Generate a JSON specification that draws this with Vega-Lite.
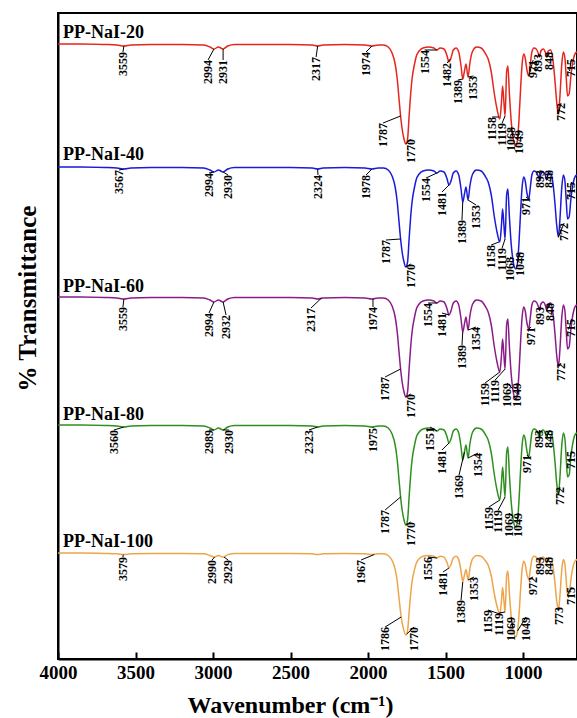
{
  "$schema": "https://vega.github.io/schema/vega-lite/v6.json",
  "width": 519,
  "height": 646,
  "autosize": {"type": "none"},
  "padding": {"left": 58, "top": 13, "right": 0, "bottom": 59},
  "background": "white",
  "config": {"view": {"stroke": "black", "strokeWidth": 2}, "font": "Liberation Serif"},
  "datasets": {
    "spec": [
      {"w":4000,"a":615,"b":492,"c":362,"d":234,"e":106},
      {"w":3850,"a":615,"b":492,"c":362,"d":234,"e":106},
      {"w":3700,"a":614.5,"b":491.5,"c":361.5,"d":233.5,"e":105.6},
      {"w":3620,"a":614,"b":491,"c":361,"d":233,"e":105.2},
      {"w":3575,"a":613,"b":490,"c":360,"d":232,"e":104.4},
      {"w":3530,"a":614,"b":491,"c":361,"d":233,"e":105.2},
      {"w":3400,"a":614.5,"b":491.5,"c":361.5,"d":233.5,"e":105.6},
      {"w":3200,"a":614.5,"b":491.5,"c":361.5,"d":233.5,"e":105.6},
      {"w":3060,"a":614,"b":491,"c":361,"d":233,"e":105.2},
      {"w":3020,"a":612,"b":489,"c":359,"d":231,"e":103.5},
      {"w":2994,"a":610,"b":487,"c":357,"d":229,"e":101.9},
      {"w":2965,"a":612,"b":489,"c":359,"d":231,"e":103.5},
      {"w":2935,"a":610,"b":487,"c":357,"d":229,"e":101.9},
      {"w":2905,"a":613,"b":490,"c":360,"d":232,"e":104.4},
      {"w":2860,"a":614.5,"b":491.5,"c":361.5,"d":233.5,"e":105.6},
      {"w":2700,"a":614.5,"b":491.5,"c":361.5,"d":233.5,"e":105.6},
      {"w":2500,"a":614.5,"b":491.5,"c":361.5,"d":233.5,"e":105.6},
      {"w":2360,"a":614,"b":491,"c":361,"d":233,"e":105.2},
      {"w":2325,"a":613,"b":490,"c":360,"d":232,"e":104.4},
      {"w":2290,"a":614,"b":491,"c":361,"d":233,"e":105.2},
      {"w":2150,"a":614.5,"b":491.5,"c":361.5,"d":233.5,"e":105.6},
      {"w":2020,"a":614,"b":491,"c":361,"d":233,"e":105.2},
      {"w":1975,"a":613,"b":490,"c":360,"d":232,"e":104.4},
      {"w":1935,"a":614,"b":491,"c":361,"d":233,"e":105.2},
      {"w":1900,"a":614,"b":491,"c":361,"d":233,"e":105.2},
      {"w":1870,"a":612,"b":489,"c":359,"d":231,"e":103.5},
      {"w":1845,"a":606,"b":483,"c":353,"d":225,"e":98.6},
      {"w":1825,"a":595,"b":472,"c":342,"d":214,"e":89.6},
      {"w":1813,"a":582,"b":459,"c":329,"d":201,"e":79},
      {"w":1800,"a":560,"b":437,"c":307,"d":179,"e":60.9},
      {"w":1790,"a":543,"b":420,"c":290,"d":162,"e":47},
      {"w":1780,"a":530,"b":407,"c":277,"d":149,"e":36.3},
      {"w":1768,"a":520,"b":397,"c":267,"d":139,"e":28.1},
      {"w":1756,"a":515,"b":392,"c":262,"d":134,"e":24},
      {"w":1745,"a":520,"b":397,"c":267,"d":139,"e":28.1},
      {"w":1735,"a":543,"b":420,"c":290,"d":162,"e":47},
      {"w":1725,"a":565,"b":442,"c":312,"d":184,"e":65},
      {"w":1716,"a":580,"b":457,"c":327,"d":199,"e":77.3},
      {"w":1700,"a":595,"b":472,"c":342,"d":214,"e":89.6},
      {"w":1690,"a":602,"b":479,"c":349,"d":221,"e":95.3},
      {"w":1670,"a":608,"b":485,"c":355,"d":227,"e":100.3},
      {"w":1645,"a":611,"b":488,"c":358,"d":230,"e":102.7},
      {"w":1610,"a":612,"b":489,"c":359,"d":231,"e":103.5},
      {"w":1575,"a":611,"b":488,"c":358,"d":230,"e":102.7},
      {"w":1556,"a":609,"b":486,"c":356,"d":228,"e":101.1},
      {"w":1535,"a":611,"b":488,"c":358,"d":230,"e":102.7},
      {"w":1510,"a":610,"b":487,"c":357,"d":229,"e":101.9},
      {"w":1490,"a":603,"b":480,"c":350,"d":222,"e":96.2},
      {"w":1478,"a":597,"b":474,"c":344,"d":216,"e":91.2},
      {"w":1465,"a":601,"b":478,"c":348,"d":220,"e":94.5},
      {"w":1450,"a":609,"b":486,"c":356,"d":228,"e":101.1},
      {"w":1432,"a":611,"b":488,"c":358,"d":230,"e":102.7},
      {"w":1415,"a":607,"b":484,"c":354,"d":226,"e":99.4},
      {"w":1400,"a":593,"b":470,"c":340,"d":212,"e":88},
      {"w":1389,"a":580,"b":457,"c":327,"d":199,"e":77.3},
      {"w":1378,"a":588,"b":465,"c":335,"d":207,"e":83.9},
      {"w":1368,"a":595,"b":472,"c":342,"d":214,"e":89.6},
      {"w":1355,"a":582,"b":459,"c":329,"d":201,"e":79},
      {"w":1342,"a":597,"b":474,"c":344,"d":216,"e":91.2},
      {"w":1325,"a":608,"b":485,"c":355,"d":227,"e":100.3},
      {"w":1300,"a":612,"b":489,"c":359,"d":231,"e":103.5},
      {"w":1270,"a":611,"b":488,"c":358,"d":230,"e":102.7},
      {"w":1245,"a":606,"b":483,"c":353,"d":225,"e":98.6},
      {"w":1225,"a":600,"b":477,"c":347,"d":219,"e":93.7},
      {"w":1205,"a":587,"b":464,"c":334,"d":206,"e":83},
      {"w":1185,"a":565,"b":442,"c":312,"d":184,"e":65},
      {"w":1168,"a":550,"b":427,"c":297,"d":169,"e":52.7},
      {"w":1150,"a":540,"b":417,"c":287,"d":159,"e":44.5},
      {"w":1140,"a":555,"b":432,"c":302,"d":174,"e":56.8},
      {"w":1132,"a":573,"b":450,"c":320,"d":192,"e":71.6},
      {"w":1124,"a":558,"b":435,"c":305,"d":177,"e":59.3},
      {"w":1116,"a":543,"b":420,"c":290,"d":162,"e":47},
      {"w":1106,"a":587,"b":464,"c":334,"d":206,"e":83},
      {"w":1098,"a":593,"b":470,"c":340,"d":212,"e":88},
      {"w":1088,"a":565,"b":442,"c":312,"d":184,"e":65},
      {"w":1076,"a":537,"b":414,"c":284,"d":156,"e":42},
      {"w":1066,"a":523,"b":400,"c":270,"d":142,"e":30.6},
      {"w":1056,"a":515,"b":392,"c":262,"d":134,"e":24},
      {"w":1046,"a":513,"b":390,"c":260,"d":132,"e":22.4},
      {"w":1036,"a":519,"b":396,"c":266,"d":138,"e":27.3},
      {"w":1026,"a":540,"b":417,"c":287,"d":159,"e":44.5},
      {"w":1016,"a":570,"b":447,"c":317,"d":189,"e":69.1},
      {"w":1006,"a":595,"b":472,"c":342,"d":214,"e":89.6},
      {"w":996,"a":605,"b":482,"c":352,"d":224,"e":97.8},
      {"w":986,"a":601,"b":478,"c":348,"d":220,"e":94.5},
      {"w":975,"a":589,"b":466,"c":336,"d":208,"e":84.7},
      {"w":963,"a":583,"b":460,"c":330,"d":202,"e":79.8},
      {"w":953,"a":595,"b":472,"c":342,"d":214,"e":89.6},
      {"w":943,"a":607,"b":484,"c":354,"d":226,"e":99.4},
      {"w":930,"a":611,"b":488,"c":358,"d":230,"e":102.7},
      {"w":915,"a":610,"b":487,"c":357,"d":229,"e":101.9},
      {"w":900,"a":605,"b":482,"c":352,"d":224,"e":97.8},
      {"w":893,"a":602,"b":479,"c":349,"d":221,"e":95.3},
      {"w":885,"a":608,"b":485,"c":355,"d":227,"e":100.3},
      {"w":870,"a":610,"b":487,"c":357,"d":229,"e":101.9},
      {"w":855,"a":606,"b":483,"c":353,"d":225,"e":98.6},
      {"w":848,"a":602,"b":479,"c":349,"d":221,"e":95.3},
      {"w":838,"a":608,"b":485,"c":355,"d":227,"e":100.3},
      {"w":822,"a":609,"b":486,"c":356,"d":228,"e":101.1},
      {"w":808,"a":600,"b":477,"c":347,"d":219,"e":93.7},
      {"w":795,"a":580,"b":457,"c":327,"d":199,"e":77.3},
      {"w":783,"a":557,"b":434,"c":304,"d":176,"e":58.4},
      {"w":772,"a":545,"b":422,"c":292,"d":164,"e":48.6},
      {"w":762,"a":563,"b":440,"c":310,"d":182,"e":63.4},
      {"w":750,"a":595,"b":472,"c":342,"d":214,"e":89.6},
      {"w":740,"a":607,"b":484,"c":354,"d":226,"e":99.4},
      {"w":730,"a":601,"b":478,"c":348,"d":220,"e":94.5},
      {"w":722,"a":583,"b":460,"c":330,"d":202,"e":79.8},
      {"w":713,"a":563,"b":440,"c":310,"d":182,"e":63.4},
      {"w":703,"a":565,"b":442,"c":312,"d":184,"e":65},
      {"w":690,"a":585,"b":462,"c":332,"d":204,"e":81.4},
      {"w":675,"a":600,"b":477,"c":347,"d":219,"e":93.7},
      {"w":662,"a":606,"b":483,"c":353,"d":225,"e":98.6},
      {"w":652,"a":607,"b":484,"c":354,"d":226,"e":99.4}
    ],
    "peaks": [
      {"s":"a","t":"3559","x":3581,"y":607,"px":3575,"py":613},
      {"s":"a","t":"2994","x":3032,"y":599,"px":2994,"py":610},
      {"s":"a","t":"2931","x":2935,"y":599,"px":2935,"py":610},
      {"s":"a","t":"2317","x":2335,"y":602,"px":2325,"py":613},
      {"s":"a","t":"1974","x":2013,"y":607,"px":1975,"py":613},
      {"s":"a","t":"1554","x":1635,"y":609,"px":1556,"py":609},
      {"s":"a","t":"1482","x":1490,"y":596,"px":1470,"py":600},
      {"s":"a","t":"1389","x":1420,"y":579,"px":1389,"py":580},
      {"s":"a","t":"1353","x":1320,"y":583,"px":1355,"py":582},
      {"s":"a","t":"1787","x":1903,"y":536,"px":1790,"py":543},
      {"s":"a","t":"1770","x":1725,"y":520,"px":1756,"py":515},
      {"s":"a","t":"1158","x":1200,"y":542,"px":1155,"py":542},
      {"s":"a","t":"1119","x":1135,"y":536,"px":1116,"py":543},
      {"s":"a","t":"1068","x":1077,"y":532,"px":1066,"py":523},
      {"s":"a","t":"1049","x":1026,"y":529,"px":1036,"py":519},
      {"s":"a","t":"971","x":935,"y":599,"px":963,"py":583},
      {"s":"a","t":"893","x":903,"y":605,"px":893,"py":602},
      {"s":"a","t":"848","x":832,"y":607,"px":848,"py":602},
      {"s":"a","t":"772","x":755,"y":556,"px":772,"py":545},
      {"s":"a","t":"715","x":688,"y":600,"px":700,"py":588},

      {"s":"b","t":"3567","x":3606,"y":489,"px":3575,"py":490},
      {"s":"b","t":"2994","x":3026,"y":486,"px":2994,"py":487},
      {"s":"b","t":"2930","x":2903,"y":484,"px":2935,"py":487},
      {"s":"b","t":"2324","x":2323,"y":484,"px":2325,"py":490},
      {"s":"b","t":"1978","x":2013,"y":484,"px":1975,"py":490},
      {"s":"b","t":"1554","x":1626,"y":481,"px":1556,"py":486},
      {"s":"b","t":"1481","x":1523,"y":467,"px":1478,"py":474},
      {"s":"b","t":"1389","x":1394,"y":439,"px":1389,"py":457},
      {"s":"b","t":"1353","x":1303,"y":454,"px":1355,"py":459},
      {"s":"b","t":"1787","x":1884,"y":419,"px":1790,"py":420},
      {"s":"b","t":"1770","x":1725,"y":395,"px":1756,"py":392},
      {"s":"b","t":"1158","x":1206,"y":414,"px":1155,"py":417},
      {"s":"b","t":"1119","x":1135,"y":411,"px":1116,"py":420},
      {"s":"b","t":"1068","x":1084,"y":402,"px":1066,"py":400},
      {"s":"b","t":"1048","x":1019,"y":407,"px":1036,"py":396},
      {"s":"b","t":"971","x":981,"y":462,"px":963,"py":460},
      {"s":"b","t":"893","x":890,"y":489,"px":893,"py":479},
      {"s":"b","t":"848","x":832,"y":489,"px":848,"py":479},
      {"s":"b","t":"772","x":735,"y":436,"px":772,"py":422},
      {"s":"b","t":"715","x":688,"y":477,"px":700,"py":462},

      {"s":"c","t":"3559","x":3581,"y":352,"px":3575,"py":360},
      {"s":"c","t":"2994","x":3026,"y":346,"px":2994,"py":357},
      {"s":"c","t":"2932","x":2916,"y":344,"px":2935,"py":357},
      {"s":"c","t":"2317","x":2368,"y":351,"px":2300,"py":361},
      {"s":"c","t":"1974","x":1968,"y":352,"px":1968,"py":360},
      {"s":"c","t":"1554","x":1613,"y":356,"px":1556,"py":356},
      {"s":"c","t":"1481","x":1523,"y":346,"px":1478,"py":344},
      {"s":"c","t":"1389","x":1394,"y":314,"px":1389,"py":327},
      {"s":"c","t":"1354","x":1303,"y":332,"px":1355,"py":329},
      {"s":"c","t":"1787","x":1890,"y":282,"px":1790,"py":290},
      {"s":"c","t":"1770","x":1725,"y":265,"px":1756,"py":262},
      {"s":"c","t":"1159","x":1245,"y":276,"px":1150,"py":287},
      {"s":"c","t":"1119","x":1180,"y":279,"px":1116,"py":290},
      {"s":"c","t":"1069","x":1103,"y":276,"px":1066,"py":270},
      {"s":"c","t":"1049","x":1039,"y":276,"px":1036,"py":266},
      {"s":"c","t":"971","x":948,"y":332,"px":963,"py":330},
      {"s":"c","t":"893","x":890,"y":352,"px":893,"py":349},
      {"s":"c","t":"848","x":826,"y":356,"px":848,"py":349},
      {"s":"c","t":"772","x":755,"y":296,"px":772,"py":292},
      {"s":"c","t":"715","x":688,"y":340,"px":700,"py":332},

      {"s":"d","t":"3560","x":3639,"y":229,"px":3575,"py":232},
      {"s":"d","t":"2989","x":3026,"y":229,"px":2994,"py":229},
      {"s":"d","t":"2930","x":2897,"y":229,"px":2935,"py":229},
      {"s":"d","t":"2323","x":2381,"y":229,"px":2325,"py":232},
      {"s":"d","t":"1975","x":1968,"y":231,"px":1968,"py":232},
      {"s":"d","t":"1551","x":1600,"y":232,"px":1556,"py":228},
      {"s":"d","t":"1481","x":1523,"y":209,"px":1478,"py":216},
      {"s":"d","t":"1369","x":1413,"y":184,"px":1378,"py":207},
      {"s":"d","t":"1354","x":1290,"y":206,"px":1355,"py":201},
      {"s":"d","t":"1787","x":1890,"y":149,"px":1790,"py":162},
      {"s":"d","t":"1770","x":1725,"y":137,"px":1756,"py":134},
      {"s":"d","t":"1159","x":1220,"y":152,"px":1150,"py":159},
      {"s":"d","t":"1119","x":1160,"y":149,"px":1116,"py":162},
      {"s":"d","t":"1069","x":1090,"y":146,"px":1066,"py":142},
      {"s":"d","t":"1049","x":1030,"y":146,"px":1036,"py":138},
      {"s":"d","t":"971","x":975,"y":204,"px":963,"py":202},
      {"s":"d","t":"893","x":895,"y":229,"px":893,"py":221},
      {"s":"d","t":"848","x":830,"y":229,"px":848,"py":221},
      {"s":"d","t":"772","x":762,"y":172,"px":772,"py":164},
      {"s":"d","t":"715","x":688,"y":208,"px":700,"py":197},

      {"s":"e","t":"3579","x":3581,"y":102,"px":3579,"py":104.4},
      {"s":"e","t":"2990","x":3006,"y":99,"px":2990,"py":102},
      {"s":"e","t":"2929","x":2903,"y":99,"px":2929,"py":102},
      {"s":"e","t":"1967","x":2045,"y":99,"px":1960,"py":104.5},
      {"s":"e","t":"1556","x":1613,"y":102,"px":1556,"py":101},
      {"s":"e","t":"1481","x":1516,"y":87,"px":1478,"py":91},
      {"s":"e","t":"1389","x":1400,"y":59,"px":1389,"py":77},
      {"s":"e","t":"1353","x":1316,"y":82,"px":1355,"py":79},
      {"s":"e","t":"1786","x":1890,"y":32,"px":1786,"py":42},
      {"s":"e","t":"1770","x":1703,"y":32,"px":1750,"py":25},
      {"s":"e","t":"1159","x":1226,"y":49,"px":1150,"py":45},
      {"s":"e","t":"1119","x":1155,"y":46,"px":1116,"py":47},
      {"s":"e","t":"1069","x":1077,"y":42,"px":1066,"py":31},
      {"s":"e","t":"1049","x":981,"y":42,"px":1036,"py":28},
      {"s":"e","t":"972","x":935,"y":82,"px":963,"py":80},
      {"s":"e","t":"893","x":890,"y":102,"px":893,"py":96},
      {"s":"e","t":"848","x":832,"y":102,"px":848,"py":96},
      {"s":"e","t":"773","x":768,"y":52,"px":772,"py":49},
      {"s":"e","t":"715","x":688,"y":72,"px":713,"py":64}
    ],
    "names": [
      {"name":"PP-NaI-20","w":3968,"v":621},
      {"name":"PP-NaI-40","w":3968,"v":499},
      {"name":"PP-NaI-60","w":3968,"v":367},
      {"name":"PP-NaI-80","w":3968,"v":239},
      {"name":"PP-NaI-100","w":3968,"v":112}
    ]
  },
  "layer": [
    {
      "data": {"name": "spec"},
      "transform": [{"fold": ["a","b","c","d","e"], "as": ["series","value"]}],
      "mark": {"type": "line", "strokeWidth": 1.5, "interpolate": "monotone"},
      "encoding": {
        "x": {
          "field": "w", "type": "quantitative",
          "scale": {"domain": [4000, 652], "nice": false, "zero": false},
          "axis": {
            "title": "Wavenumber (cm⁻¹)",
            "values": [4000, 3500, 3000, 2500, 2000, 1500, 1000],
            "format": "d",
            "grid": false,
            "labelFlush": false,
            "labelOverlap": false,
            "labelFont": "Liberation Serif",
            "labelFontWeight": "bold",
            "labelFontSize": 19,
            "labelColor": "black",
            "labelPadding": 11,
            "domainColor": "black",
            "domainWidth": 2,
            "tickColor": "black",
            "tickWidth": 2,
            "tickSize": -7,
            "titleFont": "Liberation Serif",
            "titleFontWeight": "bold",
            "titleFontSize": 24,
            "titleColor": "black",
            "titleX": 232,
            "titleY": 53,
            "titleBaseline": "alphabetic"
          }
        },
        "y": {
          "field": "value", "type": "quantitative",
          "scale": {"domain": [0, 646], "nice": false, "zero": false},
          "axis": {
            "title": "% Transmittance",
            "grid": false,
            "ticks": false,
            "labels": false,
            "domainColor": "black",
            "domainWidth": 2,
            "titleFont": "Liberation Serif",
            "titleFontWeight": "bold",
            "titleFontSize": 25,
            "titleColor": "black",
            "titleAngle": 270,
            "titleX": -23,
            "titleY": 285,
            "titleAlign": "center",
            "titleBaseline": "alphabetic"
          }
        },
        "color": {
          "field": "series", "type": "nominal",
          "scale": {"domain": ["a","b","c","d","e"], "range": ["#e4261f","#1a1ad8","#8a1c8a","#2f8f1f","#eda54a"]},
          "legend": null
        }
      }
    },
    {
      "data": {"name": "peaks"},
      "mark": {"type": "rule", "strokeWidth": 1, "color": "black"},
      "encoding": {
        "x": {"field": "px", "type": "quantitative"},
        "y": {"field": "py", "type": "quantitative"},
        "x2": {"field": "x"},
        "y2": {"field": "y"}
      }
    },
    {
      "data": {"name": "peaks"},
      "mark": {"type": "text", "angle": 270, "align": "right", "baseline": "middle", "font": "Liberation Serif", "fontSize": 12, "fontWeight": "bold", "color": "black"},
      "encoding": {
        "x": {"field": "x", "type": "quantitative"},
        "y": {"field": "y", "type": "quantitative"},
        "text": {"field": "t"}
      }
    },
    {
      "data": {"name": "names"},
      "mark": {"type": "text", "align": "left", "baseline": "alphabetic", "font": "Liberation Serif", "fontSize": 18, "fontWeight": "bold", "color": "black"},
      "encoding": {
        "x": {"field": "w", "type": "quantitative"},
        "y": {"field": "v", "type": "quantitative"},
        "text": {"field": "name"}
      }
    }
  ]
}
